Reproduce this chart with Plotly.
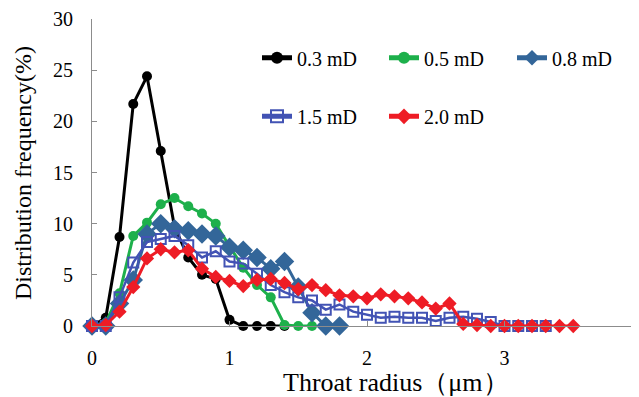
import plotly.graph_objects as go

# ---- data ----
x_03 = [0.0, 0.1, 0.2, 0.3, 0.4, 0.5, 0.6, 0.7, 0.8, 0.9, 1.0, 1.1, 1.2, 1.3, 1.4]
y_03 = [0, 0.8, 8.7, 21.7, 24.4, 17.1, 9.7, 6.7, 5.0, 4.6, 0.6, 0.0, 0.0, 0.0, 0.0]

x_05 = [0.0, 0.1, 0.2, 0.3, 0.4, 0.5, 0.6, 0.7, 0.8, 0.9, 1.0, 1.1, 1.2, 1.3, 1.4, 1.5, 1.6]
y_05 = [0, 0.3, 3.2, 8.8, 10.1, 11.9, 12.5, 11.7, 11.0, 10.0, 7.8, 5.7, 4.0, 2.8, 0.1, 0.0, 0.0]

x_08 = [0.0, 0.1, 0.2, 0.3, 0.4, 0.5, 0.6, 0.7, 0.8, 0.9, 1.0, 1.1, 1.2, 1.3, 1.4, 1.5, 1.6, 1.7, 1.8]
y_08 = [0, 0, 2.2, 4.5, 9.0, 10.0, 9.5, 9.3, 9.0, 8.8, 7.7, 7.4, 6.7, 5.6, 6.3, 3.8, 1.3, 0.0, 0.0]

x_15 = [0.0, 0.1, 0.2, 0.3, 0.4, 0.5, 0.6, 0.7, 0.8, 0.9, 1.0, 1.1, 1.2, 1.3, 1.4, 1.5, 1.6,
        1.7, 1.8, 1.9, 2.0, 2.1, 2.2, 2.3, 2.4, 2.5, 2.6, 2.7, 2.8, 2.9, 3.0, 3.1, 3.2, 3.3]
y_15 = [0, 0, 2.8, 6.2, 8.2, 8.5, 8.8, 7.9, 6.7, 7.3, 6.3, 6.1, 5.1, 4.0, 3.3, 2.8, 2.5,
        1.6, 2.1, 1.4, 1.1, 0.8, 0.9, 0.8, 0.8, 0.5, 0.8, 0.9, 0.7, 0.4, 0, 0, 0, 0]

x_20 = [0.0, 0.1, 0.2, 0.3, 0.4, 0.5, 0.6, 0.7, 0.8, 0.9, 1.0, 1.1, 1.2, 1.3, 1.4, 1.5, 1.6, 1.7,
        1.8, 1.9, 2.0, 2.1, 2.2, 2.3, 2.4, 2.5, 2.6, 2.7, 2.8, 2.9, 3.0, 3.1, 3.2, 3.3, 3.4, 3.5]
y_20 = [0, 0.1, 1.4, 3.8, 6.6, 7.5, 7.2, 7.4, 5.6, 4.8, 4.4, 3.9, 4.5, 4.6, 4.2, 3.6, 4.0, 3.5,
        3.0, 2.9, 2.7, 3.1, 2.9, 2.7, 2.3, 1.7, 2.2, 0.2, 0.1, 0, 0, 0, 0, 0, 0, 0]

series_names = ["0.3 mD", "0.5 mD", "0.8 mD", "1.5 mD", "2.0 mD"]
x_ticks = [0, 1, 2, 3]
y_ticks = [0, 5, 10, 15, 20, 25, 30]
x_title = "Throat radius（μm）"
y_title = "Distribution frequency(%)"

FONT = "Liberation Serif, Times New Roman, serif"

# ---- geometry (the page body adds an 8px offset) ----
OFF = 8
SCREEN_W, SCREEN_H = 639, 397
W, H = SCREEN_W - OFF, SCREEN_H - OFF
L, R, T, B = 92 - OFF, 0, 17 - OFF, SCREEN_H - 326
PW, PH = W - L - R, H - T - B


def px_x(px):
    # screen px -> paper
    return (px - OFF - L) / PW


def px_y(py):
    return (H - B - (py - OFF)) / PH


styles = [
    dict(color="#000000", symbol="circle", size=10, lw=3, fill=True),
    dict(color="#1DB04B", symbol="circle", size=10, lw=3, fill=True),
    dict(color="#336699", symbol="diamond", size=15, lw=3, fill=True),
    dict(color="#4253B4", symbol="square-open", size=10, lw=2.5, fill=False),
    dict(color="#EE1C25", symbol="diamond", size=11, lw=3, fill=True),
]
xs = [x_03, x_05, x_08, x_15, x_20]
ys = [y_03, y_05, y_08, y_15, y_20]

# screen px of legend text start and row centre
legend_pos = [(298, 56), (425, 56), (553, 56), (298, 115), (425, 115)]
legend_keys = ["legend", "legend2", "legend3", "legend4", "legend5"]

fig = go.Figure()
for i in range(5):
    st = styles[i]
    marker = dict(color=st["color"], symbol=st["symbol"], size=st["size"])
    if not st["fill"]:
        marker["line"] = dict(color=st["color"], width=2)
    fig.add_trace(go.Scatter(
        x=xs[i], y=ys[i], name=series_names[i], mode="lines+markers",
        line=dict(color=st["color"], width=st["lw"]),
        marker=marker, cliponaxis=False, legend=legend_keys[i],
    ))

layout_legends = {}
for key, (lx, ly) in zip(legend_keys, legend_pos):
    layout_legends[key] = dict(
        x=px_x(lx - 41), y=px_y(ly), xanchor="left", yanchor="middle",
        bgcolor="rgba(0,0,0,0)", font=dict(family=FONT, size=20, color="#000000"),
        itemsizing="constant",
    )

fig.update_layout(
    width=W, height=H, autosize=False,
    margin=dict(l=L, r=R, t=T, b=B, pad=0),
    paper_bgcolor="white", plot_bgcolor="white",
    font=dict(family=FONT, size=20, color="#000000"),
    showlegend=True,
    **layout_legends,
    xaxis=dict(
        range=[0, 4 * PW / (642 - 92)], tickvals=x_ticks, ticktext=[str(v) for v in x_ticks],
        showgrid=False, zeroline=False, showline=True, linecolor="#8C8C8C", linewidth=1,
        ticks="inside", ticklen=5, tickcolor="#8C8C8C", ticklabelstandoff=14,
        ticklabeloverflow="allow",
        tickfont=dict(family=FONT, size=20, color="#000000"),
    ),
    yaxis=dict(
        range=[0, 30], tickvals=y_ticks, showgrid=False, zeroline=False,
        showline=True, linecolor="#8C8C8C", linewidth=1,
        ticks="inside", ticklen=5, tickcolor="#8C8C8C", ticklabelstandoff=14,
        ticklabeloverflow="allow",
        tickfont=dict(family=FONT, size=20, color="#000000"),
    ),
    annotations=[
        dict(text="4", xref="paper", yref="paper", x=px_x(642), y=px_y(356),
             xanchor="center", yanchor="middle", showarrow=False,
             font=dict(family=FONT, size=20, color="#000000")),
        dict(text=x_title, xref="paper", yref="paper", x=px_x(396), y=px_y(383),
             xanchor="center", yanchor="middle", showarrow=False,
             font=dict(family=FONT, size=26, color="#000000")),
        dict(text=y_title, xref="paper", yref="paper", x=px_x(23), y=px_y(172),
             xanchor="center", yanchor="middle", showarrow=False, textangle=-90,
             font=dict(family=FONT, size=24, color="#000000")),
    ],
)

fig.write_html("out.html")
